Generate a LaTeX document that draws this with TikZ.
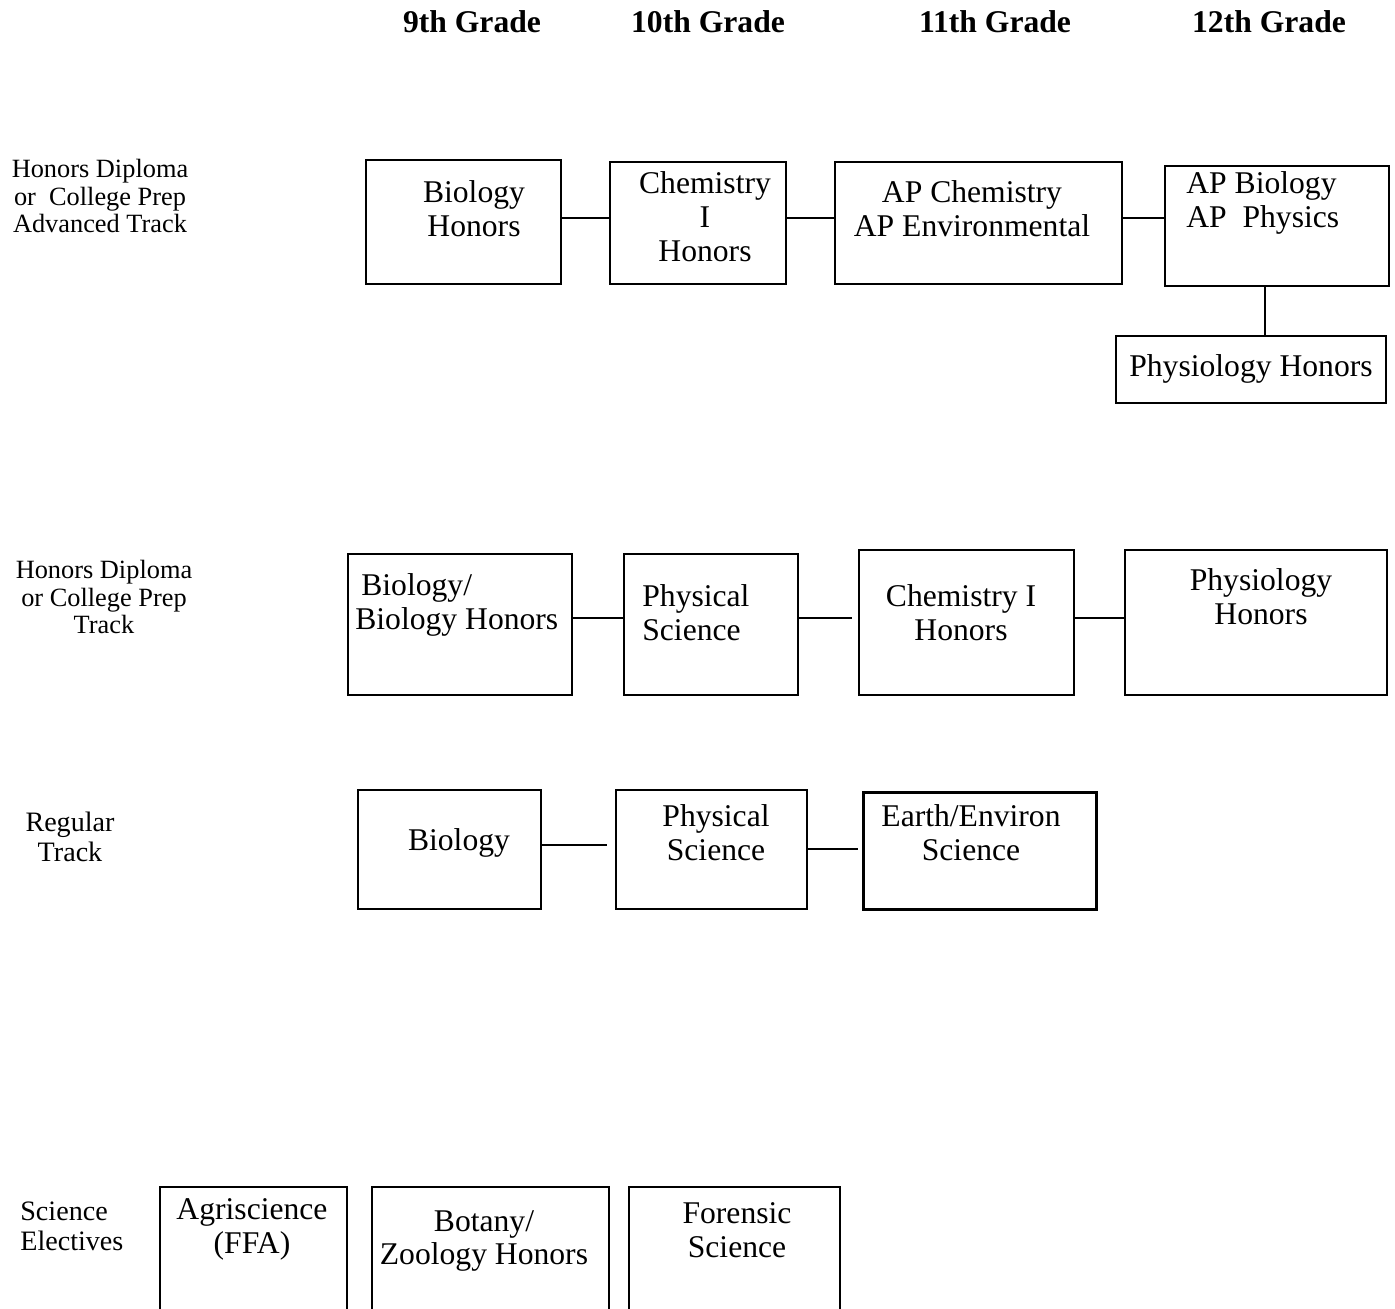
\documentclass[tikz,border=0pt]{standalone}
\usepackage{fontspec}
\setmainfont{Liberation Serif}
\usetikzlibrary{positioning}
\usetikzlibrary{fit}
\tikzset{course/.style={draw, line width=1.1pt, inner sep=0pt}}
\tikzset{coursetext/.style={font=\fontsize{18}{19.3}\selectfont, align=center, inner sep=0pt}}
\tikzset{tracktext/.style={font=\fontsize{15}{15.9}\selectfont, align=center, inner sep=0pt}}
\tikzset{bigtracktext/.style={font=\fontsize{16}{17}\selectfont, align=center, inner sep=0pt}}
\tikzset{gradetext/.style={font=\fontsize{18}{20}\selectfont\bfseries, inner sep=0pt}}
\tikzset{link/.style={line width=1.1pt}}

\begin{document}
\begin{tikzpicture}[x=0.02cm, y=-0.02cm]
	% page
	\clip (0,0) rectangle (1395,1308);
	% grade headers
	\node[gradetext] (g9) at (472,22) {9th Grade};
	\node[gradetext] (g10) at (708,22) {10th Grade};
	\node[gradetext] (g11) at (995,22) {11th Grade};
	\node[gradetext] (g12) at (1269,22) {12th Grade};
	% track labels
	\node[tracktext] (advtrack) at (100,196) {Honors Diploma\\or~ College Prep\\Advanced Track};
	\node[tracktext] (hontrack) at (104,597) {Honors Diploma\\or College Prep\\Track};
	\node[bigtracktext] (regtrack) at (70,837) {Regular\\Track};
	\node[bigtracktext, align=left, anchor=west] (electives) at (20,1226) {Science\\Electives};
	% advanced track
	\node[course, fit={(366,160) (561,284)}] (bioH) {};
	\node[coursetext] (bioHt) at (474,209) {Biology\\Honors};
	\node[course, fit={(610,162) (786,284)}] (chemH) {};
	\node[coursetext] (chemHt) at (705,217) {Chemistry\\I\\Honors};
	\node[course, fit={(835,162) (1122,284)}] (apChem) {};
	\node[coursetext] (apChemt) at (972,209) {AP Chemistry\\AP Environmental};
	\node[course, fit={(1165,166) (1389,286)}] (apBio) {};
	\node[coursetext, align=left, anchor=west] (apBiot) at (1186,203) {AP Biology\\AP~ Physics};
	\node[course, fit={(1116,336) (1386,403)}] (physioA) {};
	\node[coursetext] (physioAt) at (1251,369) {Physiology Honors};
	% honors track
	\node[course, fit={(348,554) (572,695)}] (bio2) {};
	\node[coursetext, align=left, anchor=west] (bio2t) at (355,605) {\hspace{0.12cm}Biology/\\Biology Honors};
	\node[course, fit={(624,554) (798,695)}] (phys2) {};
	\node[coursetext, align=left, anchor=west] (phys2t) at (642,613) {Physical\\Science};
	\node[course, fit={(859,550) (1074,695)}] (chem2) {};
	\node[coursetext] (chem2t) at (961,613) {Chemistry I\\Honors};
	\node[course, fit={(1125,550) (1387,695)}] (physio2) {};
	\node[coursetext] (physio2t) at (1261,597) {Physiology\\Honors};
	% regular track
	\node[course, fit={(358,790) (541,909)}] (bio3) {};
	\node[coursetext] (bio3t) at (459,843) {Biology};
	\node[course, fit={(616,790) (807,909)}] (phys3) {};
	\node[coursetext] (phys3t) at (716,833) {Physical\\Science};
	\node[course, line width=1.7pt, fit={(863,792) (1096,909)}] (earth3) {};
	\node[coursetext] (earth3t) at (971,833) {Earth/Environ\\Science};
	% electives
	\node[course, fit={(160,1187) (347,1340)}] (agri) {};
	\node[coursetext] (agrit) at (252,1229) {Agriscience\\(FFA)};
	\node[course, fit={(372,1187) (609,1340)}] (botany) {};
	\node[coursetext] (botanyt) at (484,1241) {Botany/\\Zoology Honors};
	\node[course, fit={(629,1187) (840,1340)}] (forensic) {};
	\node[coursetext] (forensict) at (737,1230) {Forensic\\Science};
	% connectors
	\coordinate (r1) at (0,218);
	\coordinate (r2) at (0,618);
	\coordinate (r3a) at (0,845);
	\coordinate (r3b) at (0,849);
	\coordinate (v1) at (1265,0);
	\draw[link] (bioH.east |- r1) -- (chemH.west |- r1);
	\draw[link] (chemH.east |- r1) -- (apChem.west |- r1);
	\draw[link] (apChem.east |- r1) -- (apBio.west |- r1);
	\draw[link] (apBio.south -| v1) -- (physioA.north -| v1);
	\draw[link] (bio2.east |- r2) -- (phys2.west |- r2);
	\draw[link, shorten >=0.12cm] (phys2.east |- r2) -- (chem2.west |- r2);
	\draw[link] (chem2.east |- r2) -- (physio2.west |- r2);
	\draw[link, shorten >=0.16cm] (bio3.east |- r3a) -- (phys3.west |- r3a);
	\draw[link, shorten >=0.08cm] (phys3.east |- r3b) -- (earth3.west |- r3b);
\end{tikzpicture}
\end{document}
